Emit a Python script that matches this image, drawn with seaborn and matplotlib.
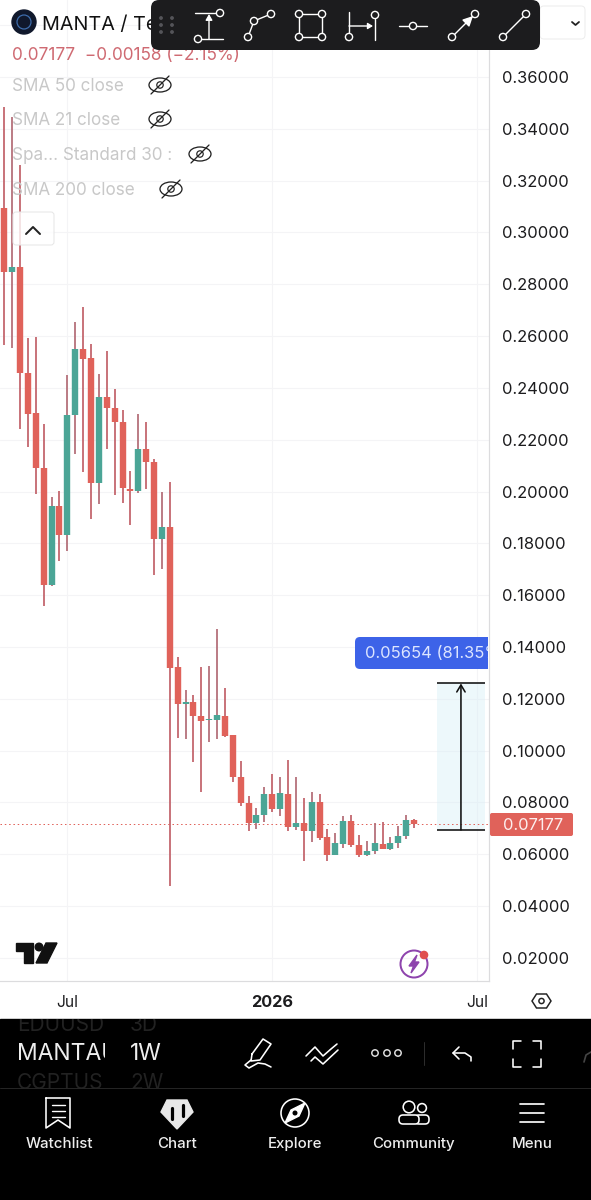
#!/usr/bin/env python3
"""MANTA weekly candles, phone screenshot of a trading app"""

import matplotlib
matplotlib.use("Agg")
import matplotlib.pyplot as plt
from matplotlib.patches import Circle, Ellipse, FancyBboxPatch, Polygon, Rectangle
import pandas as pd
import seaborn as sns

# weekly candles, values
opens = [0.3094, 0.2847, 0.2867, 0.2458, 0.2303, 0.2091, 0.1639, 0.1944, 0.1832, 0.2296,
         0.2550, 0.2515, 0.2033, 0.2365, 0.2323, 0.2268, 0.2010, 0.2002, 0.2164, 0.2114,
         0.1817, 0.1863, 0.1323, 0.1180, 0.1188, 0.1134, 0.1118, 0.1118, 0.1134, 0.1060,
         0.0898, 0.0798, 0.0721, 0.0752, 0.0833, 0.0775, 0.0833, 0.0705, 0.0721, 0.0690,
         0.0802, 0.0667, 0.0597, 0.0640, 0.0729, 0.0636, 0.0597, 0.0613, 0.0640, 0.0620,
         0.0644, 0.0671, 0.0732]
highs = [0.3484, 0.3446, 0.3260, 0.2593, 0.2597, 0.2261, 0.1979, 0.2002, 0.2450, 0.2654,
         0.2712, 0.2570, 0.2454, 0.2543, 0.2396, 0.2315, 0.2079, 0.2299, 0.2268, 0.2126,
         0.1998, 0.2037, 0.1362, 0.1234, 0.1215, 0.1323, 0.1327, 0.1470, 0.1242, 0.1060,
         0.0960, 0.0825, 0.0779, 0.0860, 0.0910, 0.0898, 0.0964, 0.0898, 0.0817, 0.0840,
         0.0833, 0.0698, 0.0682, 0.0748, 0.0752, 0.0675, 0.0651, 0.0721, 0.0725, 0.0667,
         0.0709, 0.0752, 0.0736]
lows = [0.2566, 0.2554, 0.2242, 0.2172, 0.1991, 0.1558, 0.1636, 0.1732, 0.1771, 0.2145,
        0.2075, 0.1894, 0.1952, 0.2164, 0.1987, 0.1956, 0.1871, 0.1994, 0.2010, 0.1678,
        0.1701, 0.0478, 0.1049, 0.1045, 0.0956, 0.0840, 0.1033, 0.1045, 0.1053, 0.0879,
        0.0786, 0.0690, 0.0698, 0.0725, 0.0763, 0.0748, 0.0690, 0.0694, 0.0574, 0.0647,
        0.0655, 0.0574, 0.0597, 0.0624, 0.0628, 0.0590, 0.0593, 0.0601, 0.0620, 0.0617,
        0.0624, 0.0659, 0.0701]
closes = [0.2847, 0.2867, 0.2458, 0.2299, 0.2091, 0.1639, 0.1944, 0.1832, 0.2296, 0.2550,
          0.2512, 0.2033, 0.2365, 0.2323, 0.2268, 0.2014, 0.2002, 0.2164, 0.2114, 0.1817,
          0.1863, 0.1319, 0.1180, 0.1188, 0.1134, 0.1115, 0.1122, 0.1138, 0.1057, 0.0898,
          0.0798, 0.0721, 0.0752, 0.0833, 0.0775, 0.0837, 0.0705, 0.0721, 0.0690, 0.0802,
          0.0663, 0.0597, 0.0644, 0.0729, 0.0636, 0.0597, 0.0613, 0.0644, 0.0620, 0.0644,
          0.0671, 0.0732, 0.07177]

price_ticks = [0.02, 0.04, 0.06, 0.08, 0.10, 0.12, 0.14, 0.16, 0.18,
               0.20, 0.22, 0.24, 0.26, 0.28, 0.30, 0.32, 0.34, 0.36]
time_ticks = [8, 34, 60]
time_labels = ["Jul", "2026", "Jul"]
last_price = 0.07177
measure_low = 0.0694
measure_delta = 0.05654
measure_start = 54.9
measure_end = 61.0

sma_labels = ["SMA 50 close", "SMA 21 close", "Spa... Standard 30 :", "SMA 200 close"]
nav_labels = ["Watchlist", "Chart", "Explore", "Community", "Menu"]

RED = "#e0625a"
GREEN = "#4ba596"
RED_WICK = "#c4666e"
GREEN_WICK = "#b5707a"

sns.set_style("white")
plt.rcParams['font.family'] = ['Inter', 'DejaVu Sans']

W, H = 591, 1200
PX = 0.72  # one pixel in points at dpi 100


def build_frames():
    """Long tables for wicks and bodies, two rows per candle"""
    wicks, bodies = [], []
    for i, (o, h, l, c) in enumerate(zip(opens, highs, lows, closes)):
        side = "up" if c >= o else "down"
        wicks += [(i, h, side), (i, l, side)]
        bodies += [(i, o, side), (i, c, side)]
    cols = ["week", "price", "side"]
    return pd.DataFrame(wicks, columns=cols), pd.DataFrame(bodies, columns=cols)


def draw_chart(fig):
    ax = fig.add_axes([0, (H - 981) / H, 489 / W, 981 / H])
    wicks, bodies = build_frames()

    sns.lineplot(data=wicks, x="week", y="price", hue="side", units="week", estimator=None,
                 sort=False, palette={"up": GREEN_WICK, "down": RED_WICK}, linewidth=1.8 * PX,
                 solid_capstyle="butt", legend=False, ax=ax, zorder=3)
    sns.lineplot(data=bodies, x="week", y="price", hue="side", units="week", estimator=None,
                 sort=False, palette={"up": GREEN, "down": RED}, linewidth=6.4 * PX,
                 solid_capstyle="butt", legend=False, ax=ax, zorder=4)

    ax.set_xlim(-0.546, 61.51)
    ax.set_ylim(0.0111, 0.38972)
    ax.set_xlabel("")
    ax.set_ylabel("")

    ax.yaxis.tick_right()
    ax.set_yticks(price_ticks)
    ax.set_yticklabels([f"{p:.5f}" for p in price_ticks], fontsize=11.9, color="#1c1c1e")
    ax.set_xticks(time_ticks)
    ax.set_xticklabels(time_labels, fontsize=11.2, color="#1c1c1e")
    ax.get_xticklabels()[1].set_fontweight("bold")
    ax.get_xticklabels()[1].set_fontsize(11.7)
    ax.tick_params(axis="y", length=0, pad=9.5)
    ax.tick_params(axis="x", length=0, pad=10)

    ax.grid(True, color="#f4f4f6", linewidth=1.1 * PX, zorder=0)
    ax.axhline(0.38, color="#f4f4f6", linewidth=1.1 * PX, zorder=0)
    for side in ["top", "left"]:
        ax.spines[side].set_visible(False)
    ax.spines["right"].set_color("#dcdcde")
    ax.spines["bottom"].set_color("#dcdcde")
    ax.spines["right"].set_linewidth(1.2 * PX)
    ax.spines["bottom"].set_linewidth(1.2 * PX)

    # last price marker
    ax.axhline(last_price, color=RED, linewidth=1.0 * PX, linestyle=(0, (1.5, 2.8)), zorder=2)

    # price range tool
    top = measure_low + measure_delta
    ax.fill_between([measure_start, measure_end], measure_low, top, color="#d6eff6", alpha=0.42, zorder=1, linewidth=0)
    ax.hlines([measure_low, top], measure_start, measure_end, color="#111111", linewidth=1.6 * PX, zorder=5)
    mid = (measure_start + measure_end) / 2
    ax.annotate("", xy=(mid, top), xytext=(mid, measure_low), zorder=5,
                arrowprops=dict(arrowstyle="->,head_width=0.3,head_length=0.5", color="#111111",
                                lw=1.6 * PX, shrinkA=0, shrinkB=0))
    return ax


def line(ov, xs, ys, color="white", lw=1.6, **kw):
    ov.plot(xs, ys, color=color, linewidth=lw * PX, solid_capstyle="round", **kw)


def dot(ov, x, y, r=3.6, edge="white", face="#1c1c1e", lw=1.4, z=12):
    ov.add_patch(Circle((x, y), r, facecolor=face, edgecolor=edge, linewidth=lw * PX, zorder=z))


def round_box(ov, x, y, w, h, r, **kw):
    box = FancyBboxPatch((x + r, y + r), w - 2 * r, h - 2 * r, boxstyle=f"round,pad={r}", **kw)
    ov.add_patch(box)
    return box


def clipped_text(ov, x, y, label, box, **kw):
    """Text cut off at a pixel box, like the scrolling rows in the app"""
    t = ov.text(x, y, label, va="center", clip_on=True, **kw)
    t.set_clip_path(Rectangle(box[:2], box[2], box[3], transform=ov.transData))
    return t


def eye(ov, x, y):
    ov.add_patch(Ellipse((x, y), 22, 14, fill=False, edgecolor="#222222", linewidth=1.3 * PX, zorder=6))
    ov.add_patch(Circle((x, y), 3.2, fill=False, edgecolor="#222222", linewidth=1.2 * PX, zorder=6))
    line(ov, [x - 9, x + 9], [y + 9, y - 9], color="#222222", lw=1.3, zorder=6)


def draw_legend(ov):
    ov.add_patch(Circle((24, 22), 12, color="#10182c", zorder=5))
    ov.add_patch(Circle((24, 22), 7, fill=False, edgecolor="#3f6fb0", linewidth=1.2 * PX, zorder=6))
    ov.text(42, 30, "MANTA / Te", fontsize=14.2, color="#111111", va="baseline", zorder=5)
    ov.text(12, 55, "0.07177  \u22120.00158 (\u22122.15%)", fontsize=12.4, color="#cf6a72", va="center", zorder=5)
    for label, y, ex in zip(sma_labels, [91, 125, 160, 195], [160, 160, 200, 171]):
        ov.text(12, y, label, fontsize=12.3, color="#c8c8c8", va="baseline", zorder=5)
        eye(ov, ex, y - 6)
    round_box(ov, 13, 212, 41, 33, 3, facecolor=(1, 1, 1, 0.8), edgecolor="#e6e6e6", linewidth=1 * PX, zorder=5)
    line(ov, [26, 33, 40], [234, 227, 234], color="#222222", lw=2, zorder=6)


def draw_toolbar(ov):
    round_box(ov, 540, 6, 45, 33, 4, facecolor="white", edgecolor="#ededed", linewidth=1 * PX, zorder=9)
    line(ov, [572, 575.5, 579], [22, 25, 22], color="#222222", lw=1.8, zorder=10)
    round_box(ov, 151, 0, 389, 50, 8, facecolor="#1c1c1e", edgecolor="none", zorder=10)
    for gx in [161, 172]:
        for gy in [18, 25, 32]:
            ov.add_patch(Circle((gx, gy), 1.2, color="#55555a", zorder=11))
    kw = dict(zorder=11, lw=1.4)
    # price range
    line(ov, [195, 216], [13, 13], **kw)
    line(ov, [198, 223], [39, 39], **kw)
    ov.annotate("", xy=(209, 14), xytext=(209, 39), zorder=11,
                arrowprops=dict(arrowstyle="-|>,head_width=0.2,head_length=0.35", color="white", lw=1.0, shrinkA=0, shrinkB=0))
    dot(ov, 220, 13)
    dot(ov, 198, 39)
    # path
    line(ov, [248, 254, 271], [37, 21, 14], **kw)
    for p in [(248, 37), (254, 21), (271, 14)]:
        dot(ov, *p)
    # rectangle
    line(ov, [299, 322, 322, 299, 299], [14, 14, 37, 37, 14], **kw)
    for p in [(299, 14), (322, 14), (322, 37), (299, 37)]:
        dot(ov, *p)
    # date range
    line(ov, [349, 349], [12, 33], **kw)
    line(ov, [375, 375], [19, 40], **kw)
    ov.annotate("", xy=(373, 26), xytext=(349, 26), zorder=11,
                arrowprops=dict(arrowstyle="-|>,head_width=0.18,head_length=0.3", color="white", lw=1.0, shrinkA=0, shrinkB=0))
    dot(ov, 349, 37)
    dot(ov, 375, 15)
    # horizontal ray
    line(ov, [399, 427], [26, 26], **kw)
    dot(ov, 413, 26)
    # arrow
    ov.annotate("", xy=(473, 16), xytext=(452, 37), zorder=11,
                arrowprops=dict(arrowstyle="-|>,head_width=0.3,head_length=0.6", color="white", lw=1.0, shrinkA=0, shrinkB=0))
    dot(ov, 452, 37)
    dot(ov, 475, 14)
    # trend line
    line(ov, [503, 526], [37, 14], **kw)
    dot(ov, 503, 37)
    dot(ov, 526, 14)


def draw_price_labels(ov):
    round_box(ov, 490, 813, 83, 23, 2, facecolor=RED, edgecolor="none", zorder=6)
    ov.text(533, 825, "0.07177", fontsize=11.9, color="#fdeeee", ha="center", va="center", zorder=7)
    box = round_box(ov, 355, 637, 150, 32, 5, facecolor="#3d63e8", edgecolor="none", zorder=6)
    box.set_clip_path(Rectangle((350, 630), 138, 45, transform=ov.transData))
    clipped_text(ov, 365, 654, "0.05654 (81.35%)", (350, 630, 138, 45), fontsize=11.9, color="#dce5ff", zorder=7)


def draw_branding(ov):
    ov.add_patch(Polygon([(16, 943), (33, 943), (33, 963), (24, 963), (24, 951), (16, 951)], color="#111111", zorder=5))
    ov.add_patch(Circle((39, 947), 3.8, color="#111111", zorder=5))
    ov.add_patch(Polygon([(46, 943), (57, 943), (47, 963), (36, 963)], color="#111111", zorder=5))
    ov.add_patch(Circle((414, 964), 13.5, fill=False, edgecolor="#8e44ad", linewidth=2 * PX, zorder=5))
    ov.add_patch(Polygon([(417, 955), (409, 966), (413.5, 966), (411, 973), (419, 962), (414.5, 962)], color="#8e44ad", zorder=5))
    ov.add_patch(Circle((424, 955), 3.6, color="#e04f4f", zorder=6))
    # settings hexagon
    ov.add_patch(Polygon([(532, 1001), (536.5, 994), (546.5, 994), (551, 1001), (546.5, 1008), (536.5, 1008)],
                         fill=False, edgecolor="#222222", linewidth=1.5 * PX, zorder=5))
    ov.add_patch(Circle((541.5, 1001), 2.6, fill=False, edgecolor="#222222", linewidth=1.5 * PX, zorder=5))


def draw_bottom_panel(ov):
    ov.add_patch(Rectangle((0, 1019), W, 181, color="black", zorder=8))
    dim = dict(fontsize=15, color="#222222", zorder=9)
    clipped_text(ov, 17, 1025, "EDUUSD", (0, 1019, 105, 40), **dim)
    clipped_text(ov, 130, 1025, "3D", (0, 1019, 200, 40), **dim)
    clipped_text(ov, 17, 1083, "CGPTUS", (0, 1060, 105, 28), **dim)
    clipped_text(ov, 130, 1083, "2W", (0, 1060, 200, 28), **dim)
    clipped_text(ov, 17, 1054, "MANTAU", (0, 1035, 105, 40), fontsize=16.5, color="#eeeeee", zorder=9)
    ov.text(130, 1054, "1W", fontsize=16.5, color="#eeeeee", va="center", zorder=9)
    line(ov, [0, W], [1088, 1088], color="#242424", lw=1, zorder=9)

    kw = dict(zorder=10, lw=1.6)
    # pen
    line(ov, [252, 263, 271, 260, 251, 252], [1054, 1039, 1044, 1060, 1061, 1054], **kw)
    line(ov, [251, 245, 249, 258, 265, 271], [1060, 1065, 1068, 1063, 1064, 1067], **kw)
    # layout chevrons
    line(ov, [306, 315, 323, 331, 337], [1056, 1047, 1056, 1049, 1044], **kw)
    line(ov, [311, 315, 323, 338], [1061, 1057, 1064, 1050], **kw)
    # dots
    for x in [375, 387, 398]:
        ov.add_patch(Circle((x, 1053), 3.2, fill=False, edgecolor="#dddddd", linewidth=1.5 * PX, zorder=10))
    line(ov, [424, 424], [1042, 1065], color="#2c2c2c", lw=1, zorder=10)
    # undo
    line(ov, [459, 453, 459], [1047, 1053, 1059], **kw)
    line(ov, [453, 465, 471, 471], [1053, 1053, 1057, 1061], **kw)
    # fullscreen corners
    for cx, sx in [(513, 1), (541, -1)]:
        for cy, sy in [(1041, 1), (1067, -1)]:
            line(ov, [cx + 8 * sx, cx, cx], [cy, cy, cy + 8 * sy], **kw)
    line(ov, [584, 586, 591], [1062, 1055, 1052], color="#444444", lw=1.7, zorder=10)

    # nav icons
    nav_x = [59, 177, 295, 413, 532]
    line(ov, [46, 70, 70, 58, 46, 46], [1098, 1098, 1128, 1120, 1128, 1098], **kw)
    for y in [1105, 1111, 1117]:
        line(ov, [52, 65], [y, y], zorder=10, lw=1.4)
    ov.add_patch(Polygon([(167, 1100), (187, 1100), (193, 1112), (177, 1129), (161, 1112)], color="#e8e8e8", zorder=10))
    for x, y0, y1 in [(172, 1108, 1119), (183, 1105, 1116)]:
        line(ov, [x, x], [y0, y1], color="black", lw=3.2, zorder=11)
    ov.add_patch(Circle((295, 1113), 14, fill=False, edgecolor="white", linewidth=1.6 * PX, zorder=10))
    ov.add_patch(Polygon([(305, 1103), (299, 1116), (285, 1123), (291, 1110)], color="white", zorder=10))
    ov.add_patch(Circle((295, 1113), 1.8, color="black", zorder=11))
    ov.add_patch(Circle((409, 1107), 5.8, fill=False, edgecolor="white", linewidth=1.6 * PX, zorder=10))
    ov.add_patch(Circle((422, 1108), 4.4, fill=False, edgecolor="white", linewidth=1.6 * PX, zorder=10))
    round_box(ov, 415, 1115, 14, 9, 4, facecolor="black", edgecolor="white", linewidth=1.6 * PX, zorder=10)
    round_box(ov, 399, 1115, 20, 9, 4, facecolor="black", edgecolor="white", linewidth=1.6 * PX, zorder=10)
    for y in [1104, 1113, 1122]:
        line(ov, [520, 544], [y, y], zorder=10, lw=1.7)
    for x, label in zip(nav_x, nav_labels):
        ov.text(x, 1144, label, fontsize=10.8, fontweight="medium", color="#eeeeee",
                ha="center", va="center", zorder=10)


def main():
    fig = plt.figure(figsize=(W / 100, H / 100), dpi=100, facecolor="white")
    draw_chart(fig)

    ov = fig.add_axes([0, 0, 1, 1], facecolor="none")
    ov.set_xlim(0, W)
    ov.set_ylim(H, 0)
    ov.axis("off")

    draw_branding(ov)
    draw_price_labels(ov)
    draw_legend(ov)
    draw_toolbar(ov)
    draw_bottom_panel(ov)

    fig.savefig("out.png", dpi=100)
    plt.close(fig)


if __name__ == "__main__":
    main()
